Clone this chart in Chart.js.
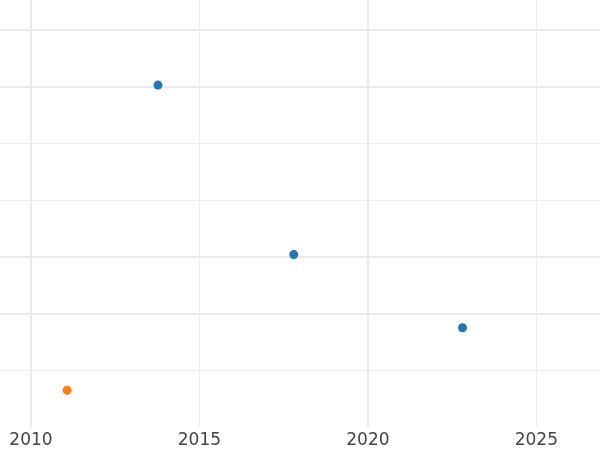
<!DOCTYPE html>
<html>
<head>
<meta charset="utf-8">
<script src="https://cdn.jsdelivr.net/npm/chart.js@4/dist/chart.umd.min.js"></script>
<style>
  html, body { margin: 0; padding: 0; background: #fff; }
  #wrap { width: 600px; height: 450px; }
</style>
</head>
<body>
<div id="wrap"><canvas id="chart"></canvas></div>
<script>
// data
const blueYears = [2013.77, 2017.80, 2022.81];
const blueValues = [6.03, 3.04, 1.75];
const orangeYears = [2011.07];
const orangeValues = [0.65];

const xTicks = [2010, 2015, 2020, 2025];
const xMajor = [2010, 2020];
const yTicks = [1, 2, 3, 4, 5, 6, 7];
const yMajor = [2, 3, 6, 7];

const toPoints = (xs, ys) => xs.map((x, i) => ({ x, y: ys[i] }));

const majorColor = '#ebebeb';
const minorColor = '#eeeeee';

new Chart(document.getElementById('chart'), {
  type: 'scatter',
  data: {
    datasets: [
      {
        label: 'blue',
        data: toPoints(blueYears, blueValues),
        backgroundColor: '#1f77b4',
        borderWidth: 0,
        pointRadius: 4.5
      },
      {
        label: 'orange',
        data: toPoints(orangeYears, orangeValues),
        backgroundColor: '#ff7f0e',
        borderWidth: 0,
        pointRadius: 4.5
      }
    ]
  },
  options: {
    responsive: true,
    maintainAspectRatio: false,
    animation: false,
    layout: { padding: 0, autoPadding: false },
    plugins: {
      legend: { display: false },
      tooltip: { enabled: false }
    },
    scales: {
      x: {
        type: 'linear',
        min: 2009.08,
        max: 2026.89,
        afterBuildTicks: axis => { axis.ticks = xTicks.map(v => ({ value: v })); },
        // keep the axis strip 23px tall, labels sit a bit lower than centred
        afterFit: axis => { axis.height = 23; },
        border: { display: false },
        grid: {
          drawTicks: false,
          color: ctx => xMajor.includes(ctx.tick && ctx.tick.value) ? majorColor : minorColor,
          lineWidth: ctx => xMajor.includes(ctx.tick && ctx.tick.value) ? 2 : 1
        },
        ticks: {
          padding: 5,
          color: '#444444',
          font: { family: 'DejaVu Sans', size: 17, lineHeight: '17px' },
          maxRotation: 0,
          callback: v => String(v)
        }
      },
      y: {
        type: 'linear',
        min: 0,
        max: 7.53,
        afterBuildTicks: axis => { axis.ticks = yTicks.map(v => ({ value: v })); },
        border: { display: false },
        grid: {
          drawTicks: false,
          color: ctx => yMajor.includes(ctx.tick && ctx.tick.value) ? majorColor : minorColor,
          lineWidth: ctx => yMajor.includes(ctx.tick && ctx.tick.value) ? 2 : 1
        },
        ticks: { display: false }
      }
    }
  }
});
</script>
</body>
</html>
